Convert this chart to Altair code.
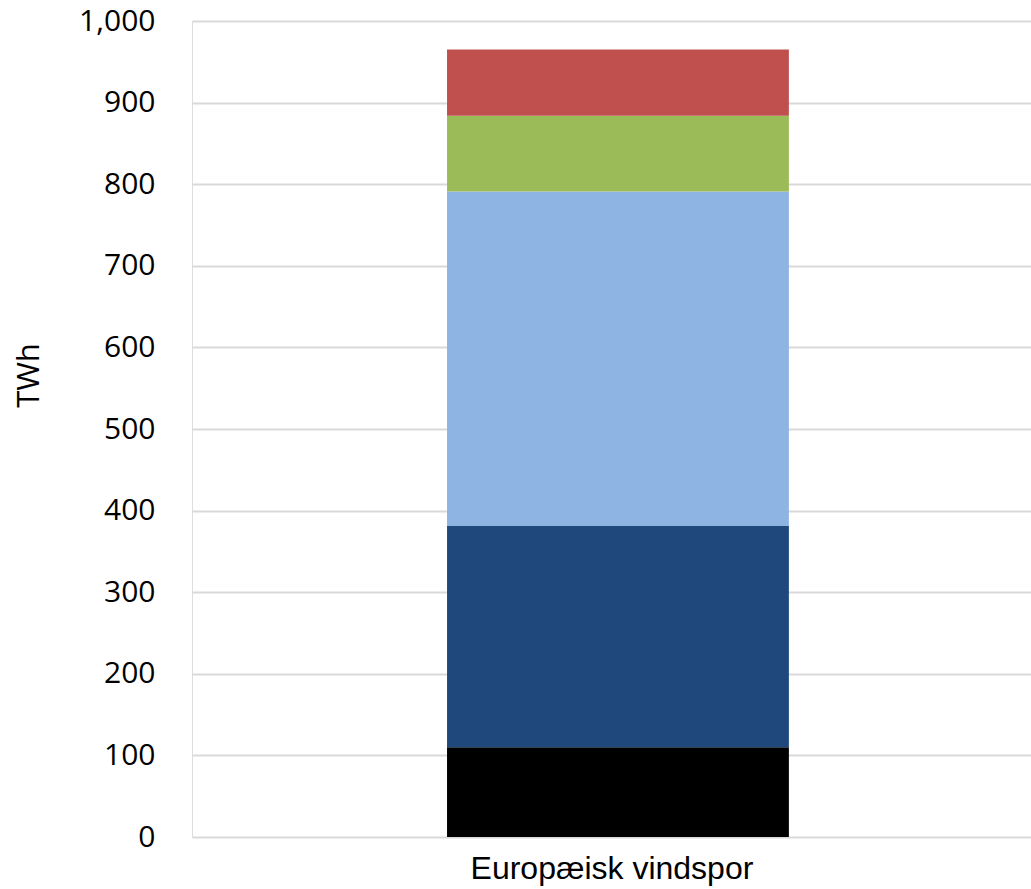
import altair as alt
import pandas as pd

category = ["Europæisk vindspor"]
segments = ["A", "B", "C", "D", "E"]
values = [110, 271, 410, 93, 81]
colors = ["#000000", "#1F497D", "#8EB4E3", "#9BBB59", "#C0504D"]

df = pd.DataFrame({
    "cat": category * len(segments),
    "seg": segments,
    "val": values,
    "ord": list(range(len(segments))),
})

chart = alt.Chart(df).mark_bar(stroke=None).encode(
    x=alt.X("cat:N", title=None,
            scale=alt.Scale(paddingInner=0.421, paddingOuter=0.421, align=0.513),
            axis=alt.Axis(labelAngle=0, labelFont="Liberation Sans", labelFontSize=32,
                          labelColor="black", domain=False, ticks=False, labelPadding=16,
                          labelLimit=0, labelOffset=-6)),
    y=alt.Y("val:Q", stack="zero", title="TWh",
            scale=alt.Scale(domain=[0, 1000], nice=False),
            axis=alt.Axis(values=list(range(0, 1001, 100)), format=",d",
                          labelFont="Open Sans", labelFontSize=30, labelColor="black",
                          domain=False, ticks=False, labelPadding=37,
                          gridColor="#d9d9d9", gridWidth=2,
                          titleFont="Open Sans", titleFontSize=31,
                          titleFontWeight="normal", titleColor="black",
                          titleX=-163, titleY=354, titleAngle=270,
                          titleAlign="center", titleBaseline="middle")),
    color=alt.Color("seg:N", scale=alt.Scale(domain=segments, range=colors), legend=None),
    order=alt.Order("ord:Q"),
).properties(
    width=839, height=816,
    padding={"left": 192, "top": 21, "right": 0, "bottom": 52},
    autosize=alt.AutoSizeParams(type="none"),
).configure_view(stroke=None).configure(background="white")

chart.save("out.html", embed_options={"renderer": "svg", "actions": False})
